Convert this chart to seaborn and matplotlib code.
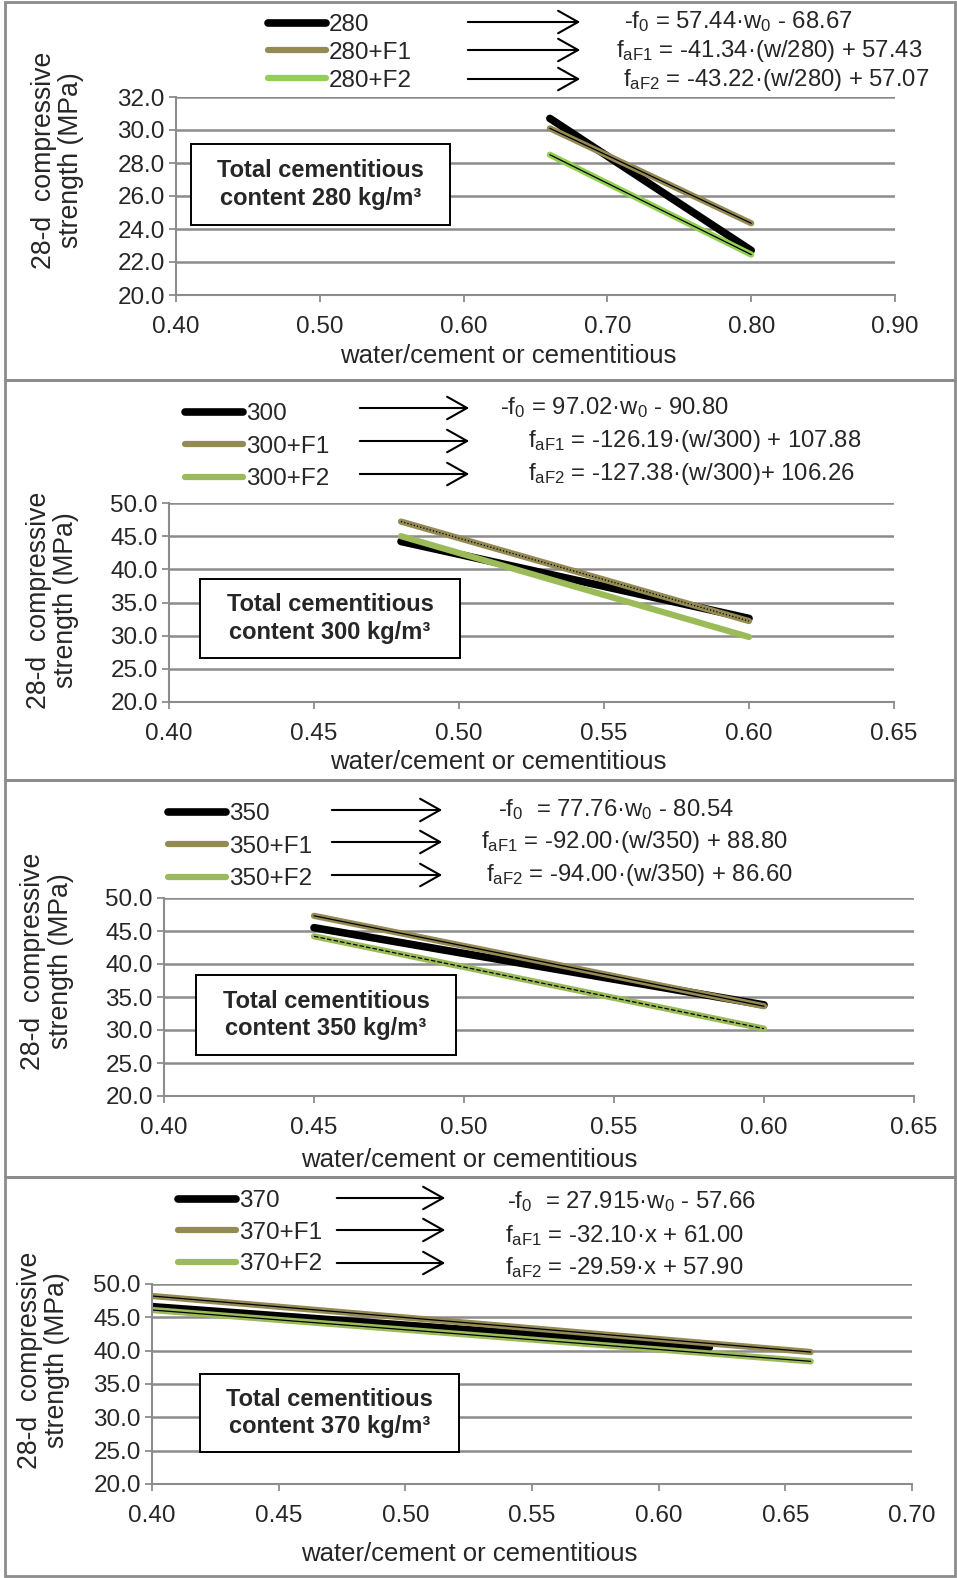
import numpy as np
import pandas as pd
import matplotlib
matplotlib.use('Agg')
import matplotlib.pyplot as plt
import seaborn as sns
from matplotlib.patches import Rectangle, FancyArrowPatch

sns.set_style('white')
plt.rcParams['font.family'] = ['Liberation Sans', 'DejaVu Sans']
plt.rcParams['mathtext.fontset'] = 'custom'
plt.rcParams['mathtext.rm'] = 'Liberation Sans'

W, H = 957, 1578

# ---------------------------------------------------------
# Data (end points of each fitted line)
# ---------------------------------------------------------
series_280 = ['280', '280+F1', '280+F2']
wc_280 = [[0.66, 0.80], [0.66, 0.80], [0.66, 0.80]]
fc_280 = [[30.7, 22.7], [30.1, 24.35], [28.5, 22.45]]
eq_280 = [r'-$\mathregular{f_0}$ = 57.44·$\mathregular{w_0}$ - 68.67',
          r'$\mathregular{f_{aF1}}$ = -41.34·(w/280) + 57.43',
          r'$\mathregular{f_{aF2}}$ = -43.22·(w/280) + 57.07']

series_300 = ['300', '300+F1', '300+F2']
wc_300 = [[0.48, 0.60], [0.48, 0.60], [0.48, 0.60]]
fc_300 = [[44.2, 32.6], [47.2, 32.2], [45.0, 29.8]]
eq_300 = [r'-$\mathregular{f_0}$ = 97.02·$\mathregular{w_0}$ - 90.80',
          r'$\mathregular{f_{aF1}}$ = -126.19·(w/300) + 107.88',
          r'$\mathregular{f_{aF2}}$ = -127.38·(w/300)+ 106.26']

series_350 = ['350', '350+F1', '350+F2']
wc_350 = [[0.45, 0.60], [0.45, 0.60], [0.45, 0.60]]
fc_350 = [[45.5, 33.8], [47.3, 33.6], [44.2, 30.2]]
eq_350 = [r'-$\mathregular{f_0}$  = 77.76·$\mathregular{w_0}$ - 80.54',
          r'$\mathregular{f_{aF1}}$ = -92.00·(w/350) + 88.80',
          r'$\mathregular{f_{aF2}}$ = -94.00·(w/350) + 86.60']

series_370 = ['370', '370+F1', '370+F2']
wc_370 = [[0.40, 0.62], [0.40, 0.66], [0.40, 0.66]]
fc_370 = [[46.6, 40.5], [48.2, 39.8], [46.1, 38.4]]
eq_370 = [r'-$\mathregular{f_0}$  = 27.915·$\mathregular{w_0}$ - 57.66',
          r'$\mathregular{f_{aF1}}$ = -32.10·x + 61.00',
          r'$\mathregular{f_{aF2}}$ = -29.59·x + 57.90']

x_ticks_280 = [0.40, 0.50, 0.60, 0.70, 0.80, 0.90]
x_ticks_300 = [0.40, 0.45, 0.50, 0.55, 0.60, 0.65]
x_ticks_350 = [0.40, 0.45, 0.50, 0.55, 0.60, 0.65]
x_ticks_370 = [0.40, 0.45, 0.50, 0.55, 0.60, 0.65, 0.70]
y_ticks_280 = [20.0, 22.0, 24.0, 26.0, 28.0, 30.0, 32.0]
y_ticks_big = [20.0, 25.0, 30.0, 35.0, 40.0, 45.0, 50.0]

# ---------------------------------------------------------
# Layout (pixel positions on the 957x1578 canvas)
# ---------------------------------------------------------
panels = [
    dict(series=series_280, wc=wc_280, fc=fc_280, eq=eq_280, xt=x_ticks_280, yt=y_ticks_280,
         box='Total cementitious\ncontent 280 kg/m³', f2='#92D050', core=['-', '-'],
         ax=(176, 97, 895, 295), border=(5, 2, 955, 380),
         leg=(268, 14, 0.24), arrows=(465, 583, [22, 50, 79]),
         eqpos=[(624, 22), (616, 51), (623, 80)],
         boxpx=(191, 144, 450, 225), xl=(0.462, -0.31), yl=(-0.165, 0.68)),
    dict(series=series_300, wc=wc_300, fc=fc_300, eq=eq_300, xt=x_ticks_300, yt=y_ticks_big,
         box='Total cementitious\ncontent 300 kg/m³', f2='#9BBB59', core=[':', None],
         ax=(169, 503, 894, 702), border=(5, 380, 955, 780),
         leg=(185, 403, 0.44), arrows=(357, 472, [408, 441, 474]),
         eqpos=[(500, 408), (528, 441), (528, 474)],
         boxpx=(200, 579, 460, 658), xl=(0.454, -0.3), yl=(-0.161, 0.51)),
    dict(series=series_350, wc=wc_350, fc=fc_350, eq=eq_350, xt=x_ticks_350, yt=y_ticks_big,
         box='Total cementitious\ncontent 350 kg/m³', f2='#9BBB59', core=['-', '--'],
         ax=(164, 898, 914, 1096), border=(5, 780, 955, 1177),
         leg=(168, 803, 0.44), arrows=(329, 445, [810, 842, 875]),
         eqpos=[(498, 810), (481, 842), (486, 875)],
         boxpx=(196, 975, 456, 1055), xl=(0.407, -0.325), yl=(-0.156, 0.68)),
    dict(series=series_370, wc=wc_370, fc=fc_370, eq=eq_370, xt=x_ticks_370, yt=y_ticks_big,
         box='Total cementitious\ncontent 370 kg/m³', f2='#9BBB59', core=['-', '-'],
         ax=(152, 1284, 912, 1484), border=(5, 1177, 955, 1576),
         leg=(178, 1190, 0.40), arrows=(334, 448, [1198, 1230, 1263]),
         eqpos=[(507, 1202), (505, 1236), (505, 1268)],
         boxpx=(200, 1374, 459, 1452), xl=(0.417, -0.35), yl=(-0.143, 0.62)),
]

grid_grey = '#8C8C8C'

fig = plt.figure(figsize=(W / 100, H / 100), dpi=100)


def fx(x):
    return x / W


def fy(y):
    return 1 - y / H


for p in panels:
    x0, y0, x1, y1 = p['ax']
    ax = fig.add_axes([fx(x0), fy(y1), (x1 - x0) / W, (y1 - y0) / H])

    rows = []
    for name, xs, ys in zip(p['series'], p['wc'], p['fc']):
        for xv, yv in zip(xs, ys):
            rows.append({'wc': xv, 'fc': yv, 'mix': name})
    df = pd.DataFrame(rows)
    palette = {p['series'][0]: 'black', p['series'][1]: '#948A54', p['series'][2]: p['f2']}
    widths = {p['series'][0]: 5.5, p['series'][1]: 4.5, p['series'][2]: 4.5}

    for i, name in enumerate(p['series']):
        sub = df[df['mix'] == name]
        sns.lineplot(data=sub, x='wc', y='fc', color=palette[name], lw=widths[name],
                     solid_capstyle='round', ax=ax, label=name)
        # thin dark core line seen inside the coloured trend lines
        if i > 0 and p['core'][i - 1] is not None:
            sns.lineplot(data=sub, x='wc', y='fc', color='black', lw=0.9,
                         ls=p['core'][i - 1], ax=ax, legend=False)

    ax.set_xlim(p['xt'][0], p['xt'][-1])
    ax.set_ylim(p['yt'][0], p['yt'][-1])
    ax.set_xticks(p['xt'])
    ax.set_yticks(p['yt'])
    ax.set_xticklabels([f'{v:.2f}' for v in p['xt']])
    ax.set_yticklabels([f'{v:.1f}' for v in p['yt']])
    ax.tick_params(axis='both', labelsize=17.5, length=5, width=1.3, color=grid_grey,
                   direction='out', bottom=True, left=True)
    ax.tick_params(axis='x', pad=10)
    ax.tick_params(axis='y', pad=3)
    ax.grid(False)
    ax.yaxis.grid(True, color=grid_grey, lw=1.8)
    ax.set_axisbelow(True)
    for s in ['top', 'right']:
        ax.spines[s].set_visible(False)
    for s in ['left', 'bottom']:
        ax.spines[s].set_color(grid_grey)
        ax.spines[s].set_linewidth(1.5)

    ax.set_xlabel('water/cement or cementitious', fontsize=18.5, va='center')
    ax.xaxis.set_label_coords(*p['xl'])
    ax.set_ylabel('28-d  compressive\nstrength (MPa)', fontsize=19.2, linespacing=1.05,
                  va='center')
    ax.yaxis.set_label_coords(*p['yl'])

    # boxed annotation
    bx0, by0, bx1, by1 = p['boxpx']
    fig.add_artist(Rectangle((fx(bx0), fy(by1)), (bx1 - bx0) / W, (by1 - by0) / H,
                             transform=fig.transFigure, fc='white', ec='black', lw=1.4, zorder=5))
    fig.text(fx((bx0 + bx1) / 2), fy((by0 + by1) / 2), p['box'], ha='center', va='center',
             fontsize=17, fontweight='bold', linespacing=1.25, zorder=6)

    handles, labels = ax.get_legend_handles_labels()
    lx, ly, lsp = p['leg']
    ax.legend(handles, labels, loc='upper left', bbox_to_anchor=(fx(lx), fy(ly)),
              bbox_transform=fig.transFigure, frameon=False, fontsize=17.5, borderpad=0,
              borderaxespad=0, handlelength=2.4, handletextpad=0.1, labelspacing=lsp)

    a0, a1, ys = p['arrows']
    for yv in ys:
        fig.add_artist(FancyArrowPatch(
            (fx(a0), fy(yv)), (fx(a1), fy(yv)), transform=fig.transFigure,
            arrowstyle='->,head_length=0.8,head_width=0.45', mutation_scale=18,
            lw=1.5, color='black'))

    for (ex, ey), txt in zip(p['eqpos'], p['eq']):
        fig.text(fx(ex), fy(ey), txt, fontsize=17.2, ha='left', va='center')

    rx0, ry0, rx1, ry1 = p['border']
    fig.add_artist(Rectangle((fx(rx0), fy(ry1)), (rx1 - rx0) / W, (ry1 - ry0) / H,
                             transform=fig.transFigure, fill=False, ec=grid_grey, lw=2))

fig.savefig('out.png', dpi=100)
